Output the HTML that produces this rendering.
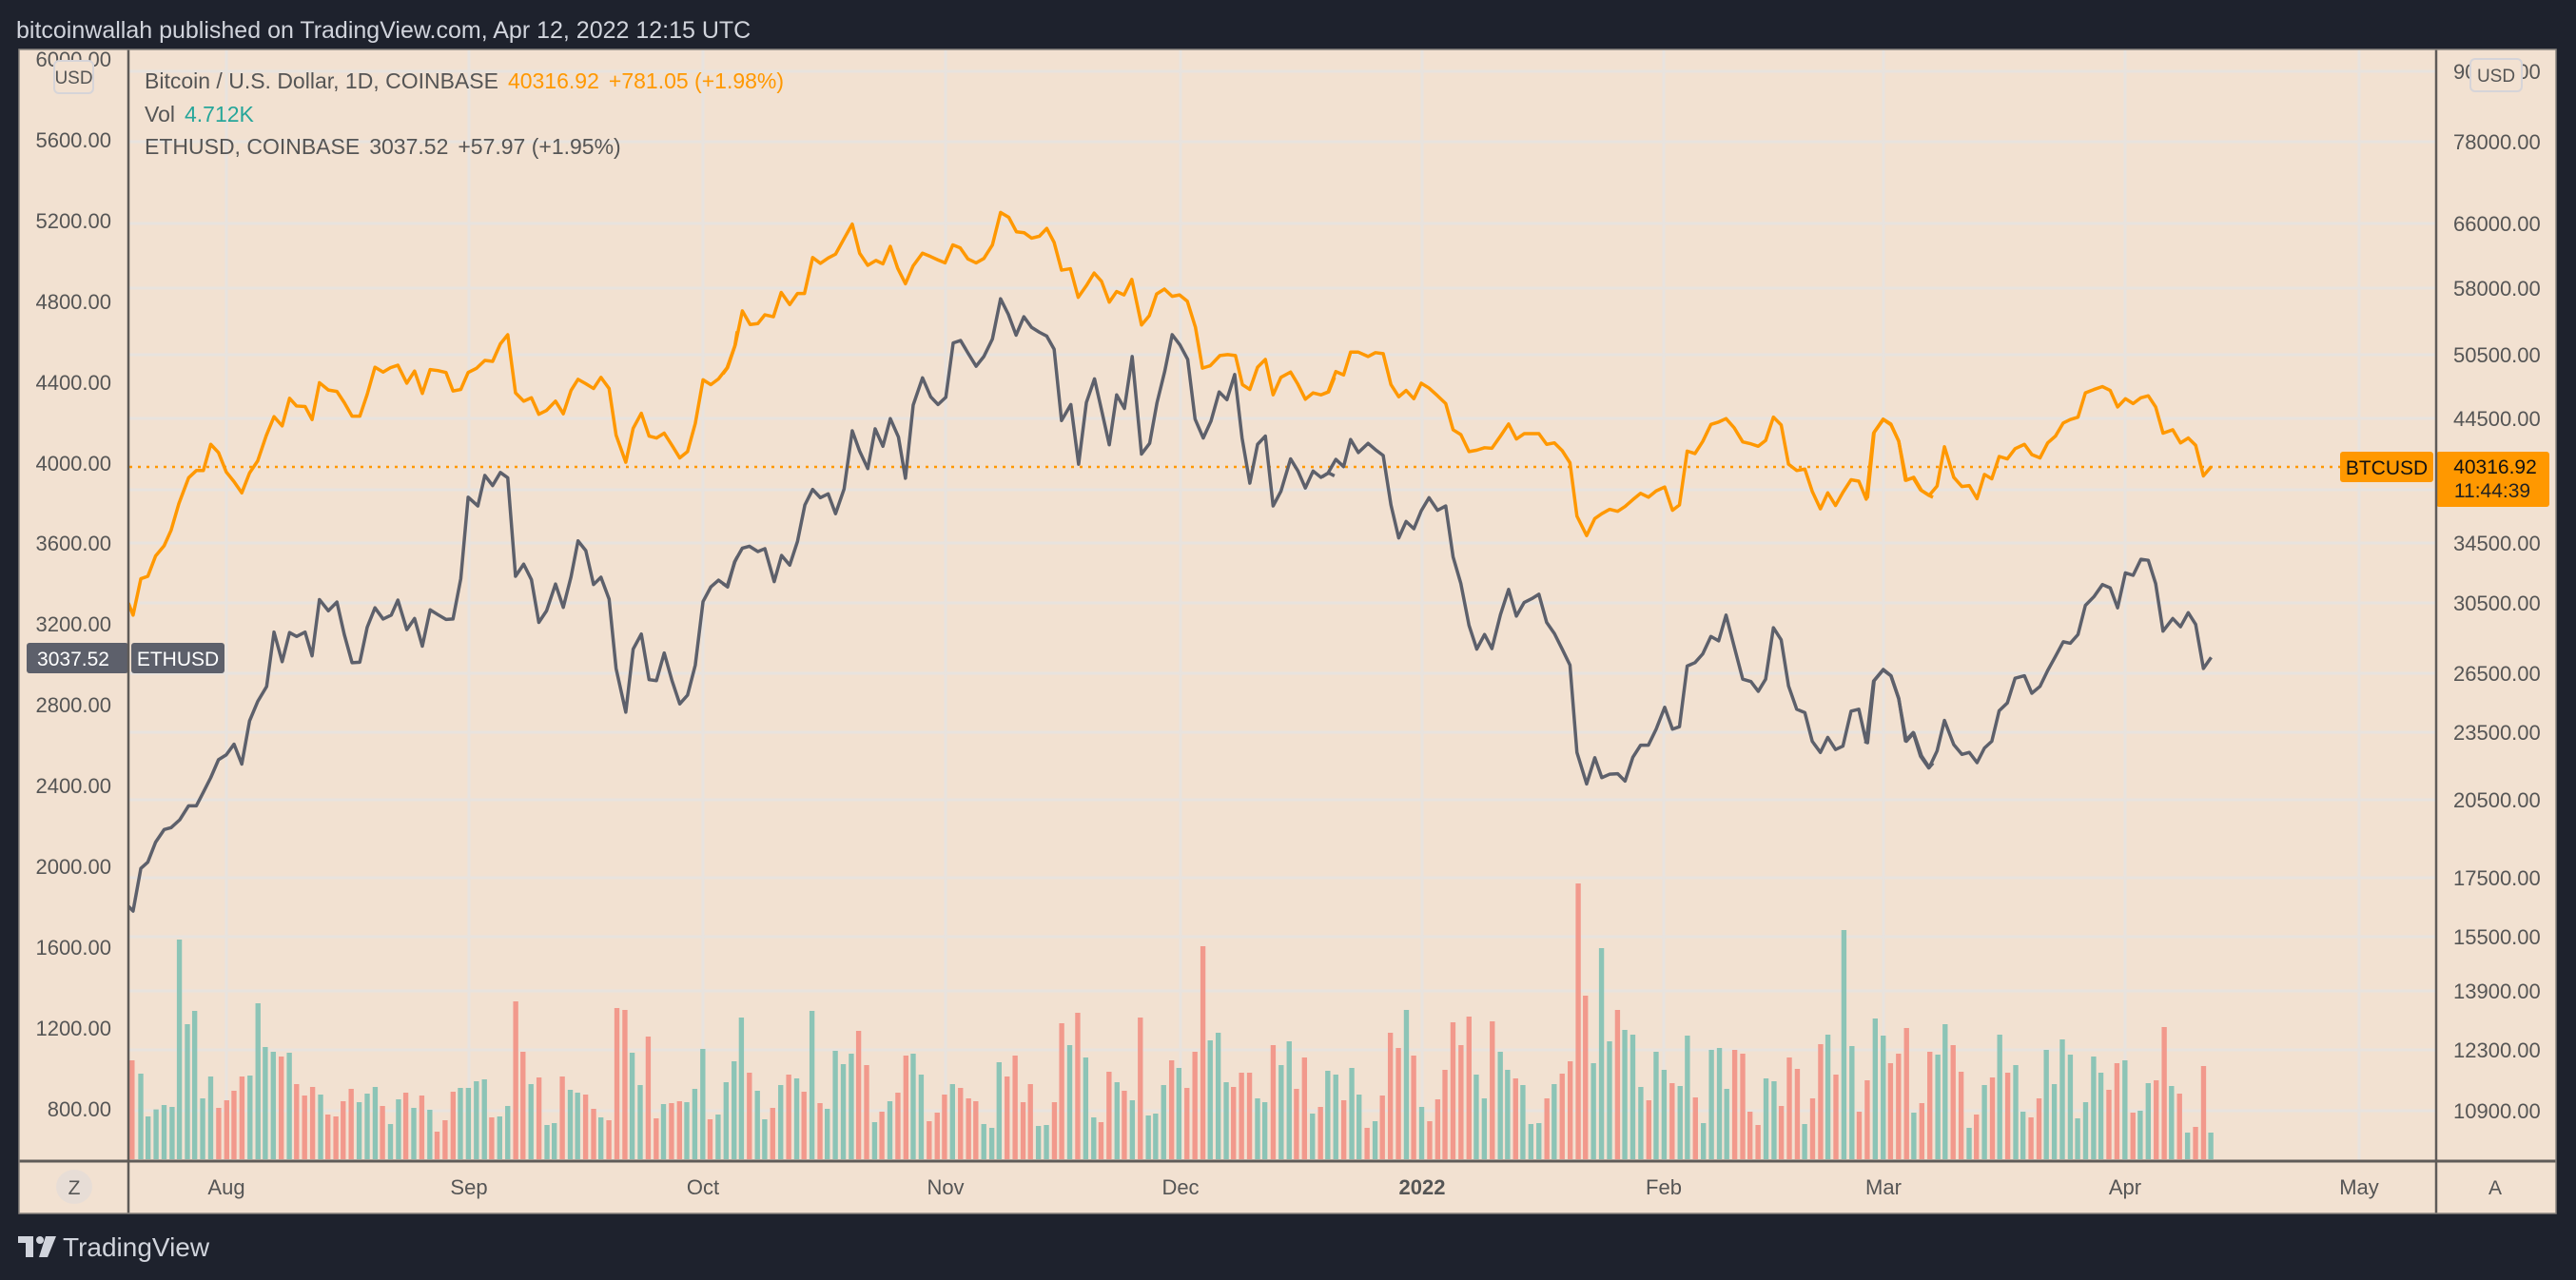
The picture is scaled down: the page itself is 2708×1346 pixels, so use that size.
<!DOCTYPE html>
<html><head><meta charset="utf-8"><style>
html,body{margin:0;padding:0;background:#1e222d;}
svg{display:block;font-family:"Liberation Sans",sans-serif;}
</style></head><body>
<svg width="2708" height="1346" viewBox="0 0 2708 1346" xmlns="http://www.w3.org/2000/svg">
<defs>
<clipPath id="plot"><rect x="136" y="53" width="2424" height="1167"/></clipPath>
<clipPath id="laxis"><rect x="21" y="53" width="114" height="1167"/></clipPath>
<clipPath id="raxis"><rect x="2562" y="53" width="125" height="1167"/></clipPath>
</defs>
<rect x="0" y="0" width="2708" height="1346" fill="#1e222d"/>
<text x="17" y="40" font-size="25" fill="#d1d4dc">bitcoinwallah published on TradingView.com, Apr 12, 2022 12:15 UTC</text>
<rect x="20" y="52" width="2667" height="1224" fill="#f2e1d1"/>
<g stroke="#e8e3de" stroke-width="3" clip-path="url(#plot)">
<line x1="136" x2="2560" y1="75" y2="75"/><line x1="136" x2="2560" y1="149" y2="149"/>
<line x1="136" x2="2560" y1="235" y2="235"/><line x1="136" x2="2560" y1="303" y2="303"/>
<line x1="136" x2="2560" y1="373" y2="373"/><line x1="136" x2="2560" y1="440" y2="440"/>
<line x1="136" x2="2560" y1="515" y2="515"/><line x1="136" x2="2560" y1="571" y2="571"/>
<line x1="136" x2="2560" y1="634" y2="634"/><line x1="136" x2="2560" y1="708" y2="708"/>
<line x1="136" x2="2560" y1="770" y2="770"/><line x1="136" x2="2560" y1="841" y2="841"/>
<line x1="136" x2="2560" y1="923" y2="923"/><line x1="136" x2="2560" y1="985" y2="985"/>
<line x1="136" x2="2560" y1="1042" y2="1042"/><line x1="136" x2="2560" y1="1104" y2="1104"/>
<line x1="136" x2="2560" y1="1168" y2="1168"/>
<line y1="53" y2="1220" x1="238" x2="238"/><line y1="53" y2="1220" x1="493" x2="493"/>
<line y1="53" y2="1220" x1="739" x2="739"/><line y1="53" y2="1220" x1="994" x2="994"/>
<line y1="53" y2="1220" x1="1241" x2="1241"/><line y1="53" y2="1220" x1="1495" x2="1495"/>
<line y1="53" y2="1220" x1="1749" x2="1749"/><line y1="53" y2="1220" x1="1980" x2="1980"/>
<line y1="53" y2="1220" x1="2234" x2="2234"/><line y1="53" y2="1220" x1="2480" x2="2480"/>
</g>
<g clip-path="url(#plot)">
<g transform="translate(135,900) scale(0.7653,0.3333)" stroke-width="7">
<path stroke="#8cc4b6" d="M17 687V957M27 822V957M38 800V957M49 786V957M60 792V957M70 264V957M81 531V957M91 489V957M102 765V957M113 696V957M167 693V957M178 465V957M188 603V957M199 618V957M221 621V957M264 753V957M317 777V957M328 750V957M339 729V957M360 846V957M371 768V957M392 795V957M414 801V957M456 732V957M467 732V957M478 711V957M489 705V957M510 822V957M521 789V957M553 720V957M575 849V957M585 843V957M607 738V957M617 747V957M649 825V957M692 621V957M703 723V957M735 783V957M767 777V957M778 735V957M789 609V957M810 816V957M821 714V957M832 648V957M842 510V957M864 741V957M874 831V957M896 723V957M918 702V957M939 489V957M960 798V957M971 615V957M982 657V957M993 624V957M1025 840V957M1046 774V957M1078 624V957M1089 690V957M1132 720V957M1175 846V957M1186 858V957M1196 651V957M1250 852V957M1261 849V957M1293 597V957M1315 636V957M1326 825V957M1358 714V957M1379 771V957M1401 819V957M1411 813V957M1422 723V957M1443 669V957M1486 582V957M1497 558V957M1508 714V957M1551 765V957M1561 777V957"/>
<path stroke="#f2998c" d="M5 645V957M124 795V957M135 771V957M145 741V957M156 696V957M210 633V957M231 720V957M242 756V957M253 729V957M274 816V957M285 822V957M295 774V957M306 735V957M349 789V957M381 747V957M403 756V957M424 870V957M435 834V957M446 744V957M499 825V957M532 459V957M542 618V957M564 699V957M596 696V957M628 753V957M639 798V957M660 834V957M671 480V957M682 486V957M714 570V957M725 828V957M746 780V957M757 774V957M799 831V957M853 684V957M885 795V957M907 690V957M928 744V957M950 780V957M1003 552V957M1014 660V957M1035 807V957M1057 747V957M1068 630V957M1100 837V957M1111 810V957M1121 753V957M1143 732V957M1154 765V957M1164 774V957M1207 696V957M1218 630V957M1229 777V957M1239 720V957M1272 777V957M1282 528V957M1304 495V957M1336 840V957M1347 681V957M1368 741V957M1390 510V957M1433 645V957M1454 732V957M1465 618V957M1476 285V957M1518 729V957M1529 684V957M1540 684V957"/>
</g>
<g transform="translate(1330,900) scale(0.7653,0.3333)" stroke-width="7">
<path stroke="#8cc4b6" d="M22 660V957M33 585V957M65 813V957M86 678V957M97 690V957M119 669V957M129 753V957M151 837V957M194 486V957M215 792V957M290 690V957M301 765V957M323 618V957M333 675V957M354 723V957M365 846V957M376 843V957M397 720V957M451 654V957M462 291V957M473 585V957M494 549V957M505 564V957M516 729V957M537 618V957M548 675V957M570 726V957M580 567V957M602 843V957M613 612V957M624 606V957M634 735V957M688 702V957M699 711V957M741 846V957M773 564V957M795 234V957M806 600V957M838 513V957M849 567V957M891 810V957M924 627V957M934 531V957M967 858V957M988 723V957M1009 564V957M1031 660V957M1041 807V957M1073 612V957M1084 720V957M1095 579V957M1106 627V957M1116 828V957M1127 777V957M1138 633V957M1148 684V957M1181 645V957M1202 804V957M1213 717V957M1245 726V957M1267 873V957M1299 873V957"/>
<path stroke="#f2998c" d="M11 597V957M43 735V957M54 636V957M76 792V957M108 771V957M140 858V957M161 756V957M172 558V957M183 606V957M204 630V957M226 837V957M237 768V957M247 675V957M258 525V957M269 597V957M280 507V957M312 522V957M344 702V957M387 765V957M408 687V957M419 648V957M430 87V957M440 441V957M484 486V957M527 771V957M559 717V957M591 762V957M645 612V957M656 624V957M666 807V957M677 849V957M709 789V957M720 636V957M731 672V957M752 765V957M763 594V957M784 690V957M816 807V957M827 708V957M859 654V957M870 624V957M881 543V957M902 780V957M913 618V957M945 597V957M956 681V957M977 816V957M999 699V957M1020 684V957M1052 825V957M1063 765V957M1159 738V957M1170 654V957M1192 810V957M1224 708V957M1235 540V957M1256 750V957M1278 855V957M1289 663V957"/>
</g>
</g>
<line x1="136" x2="2460" y1="491" y2="491" stroke="#ff9800" stroke-width="2.5" stroke-dasharray="3,6"/>
<g clip-path="url(#plot)" fill="none" stroke-linejoin="round">
<g transform="translate(135,180) scale(0.40816,0.5102)">
<polyline vector-effect="non-scaling-stroke" stroke="#ff9800" stroke-width="3.5" points="0,890 12,915 32,840 50,835 70,793 92,772 110,740 130,685 155,632 175,617 193,617 212,563 232,580 252,620 272,640 292,663 312,622 333,597 355,545 375,506 396,525 415,468 433,484 455,485 473,512 492,436 515,451 537,454 556,477 576,505 596,505 615,460 635,404 656,414 675,405 694,400 717,437 737,412 757,458 777,409 797,411 818,415 836,453 856,450 875,415 897,406 918,390 938,392 958,356 977,337 997,457 1018,474 1038,467 1057,501 1077,493 1100,474 1120,500 1140,452 1158,429 1178,438 1198,448 1217,425 1238,448 1256,544 1281,600 1300,530 1321,499 1341,546 1360,550 1380,540 1400,565 1420,591 1440,578 1460,520 1480,430 1500,440 1520,428 1542,405 1562,360 1568,330"/>
<polyline vector-effect="non-scaling-stroke" stroke="#5d606b" stroke-width="3.5" points="0,1515 12,1525 32,1437 50,1424 70,1383 92,1357 110,1353 132,1337 155,1308 175,1308 193,1280 212,1250 232,1213 252,1203 272,1181 292,1222 312,1133 333,1093 356,1062 375,950 396,1011 415,951 433,959 455,950 473,999 492,883 515,906 537,888 556,955 576,1013 596,1012 615,940 635,900 656,923 677,915 694,884 717,945 737,922 757,979 777,904 797,914 818,924 836,923 856,840 875,672 900,690 918,627 938,648 958,621 977,632 997,835 1018,810 1038,842 1057,930 1077,906 1100,851 1120,899 1140,836 1158,762 1178,782 1198,852 1217,837 1238,882 1256,1025 1281,1115 1300,985 1321,954 1341,1048 1360,1050 1380,993 1400,1050 1420,1098 1440,1080 1460,1018 1480,887 1500,857 1520,843 1542,856 1562,805 1568,795"/>
</g>
<g transform="translate(760,180) scale(0.40816,0.5102)">
<polyline vector-effect="non-scaling-stroke" stroke="#ff9800" stroke-width="3.5" points="0,418 12,405 32,357 50,288 70,316 90,314 108,296 130,300 150,250 172,275 192,252 210,252 231,178 251,190 271,179 290,171 312,139 333,109 352,169 373,194 394,184 412,191 431,155 450,200 470,232 490,195 514,169 535,176 554,183 572,189 592,152 611,158 631,181 652,189 672,180 694,152 715,85 736,95 756,125 776,127 795,138 815,134 834,118 853,147 872,204 895,201 915,260 936,236 956,210 975,227 995,270 1014,248 1033,255 1053,223 1078,317 1098,298 1117,253 1137,243 1157,258 1176,255 1196,268 1217,322 1235,406 1255,401 1280,380 1300,378 1320,380 1338,440 1357,450 1377,404 1397,388 1417,461 1437,425 1462,414 1480,438 1500,470 1520,457 1540,461 1560,455 1575,425"/>
<polyline vector-effect="non-scaling-stroke" stroke="#5d606b" stroke-width="3.5" points="0,850 12,857 30,805 50,777 68,773 90,784 108,778 132,846 151,792 172,812 192,763 211,688 231,656 251,673 271,665 290,706 312,655 333,535 352,577 373,613 392,531 412,567 431,510 452,548 470,633 490,482 514,426 535,465 554,481 574,466 593,354 612,349 632,376 652,402 672,382 694,346 715,263 735,295 755,338 775,300 795,322 815,332 834,340 853,367 872,514 896,481 916,604 936,477 957,428 975,492 995,564 1014,461 1034,489 1054,382 1078,583 1099,561 1118,477 1138,412 1157,337 1177,358 1197,388 1216,511 1237,550 1257,515 1278,455 1298,471 1318,419 1337,550 1357,643 1377,563 1397,546 1417,690 1437,660 1462,593 1481,618 1500,653 1520,618 1540,631 1560,622 1575,628"/>
</g>
<g transform="translate(1390,180) scale(0.40816,0.5102)">
<polyline vector-effect="non-scaling-stroke" stroke="#ff9800" stroke-width="3.5" points="0,460 15,455 35,413 55,420 73,373 93,373 118,382 137,374 157,376 177,440 197,465 216,452 236,469 255,437 275,447 297,463 318,479 337,533 357,543 378,578 398,575 418,570 437,571 459,546 480,521 500,552 520,541 540,541 558,541 578,563 598,560 618,576 638,601 656,711 681,751 702,716 720,706 740,697 761,701 780,691 800,677 820,664 840,672 860,659 882,651 902,699 920,688 940,577 960,582 980,557 1001,522 1021,517 1040,510 1061,529 1083,558 1104,562 1123,567 1142,555 1162,507 1182,523 1201,604 1222,617 1243,614 1262,660 1283,696 1302,663 1322,689 1341,662 1362,636 1382,639 1401,676 1420,540 1445,512 1465,523 1485,557 1502,637 1522,632 1541,657 1562,668 1573,672"/>
<polyline vector-effect="non-scaling-stroke" stroke="#5d606b" stroke-width="3.5" points="0,630 15,622 35,594 55,609 73,553 93,580 118,561 137,574 157,586 177,688 197,756 216,722 236,737 255,700 275,673 297,699 318,690 337,795 357,850 378,936 398,985 418,955 437,984 459,914 480,862 500,917 520,889 540,881 558,872 578,930 598,953 618,985 638,1018 656,1198 681,1263 702,1209 720,1250 740,1243 761,1242 780,1257 800,1208 820,1183 840,1183 860,1150 882,1105 902,1150 920,1145 940,1020 960,1013 980,995 1001,959 1021,968 1040,915 1061,980 1083,1047 1104,1052 1123,1072 1142,1047 1162,941 1182,966 1201,1061 1222,1109 1243,1116 1262,1175 1283,1198 1302,1167 1322,1192 1341,1185 1362,1113 1382,1109 1401,1177 1420,1051 1445,1027 1465,1040 1485,1087 1502,1174 1522,1157 1541,1206 1562,1230 1573,1220"/>
</g>
<g transform="translate(1960,180) scale(0.40816,0.5102)">
<polyline vector-effect="non-scaling-stroke" stroke="#ff9800" stroke-width="3.5" points="0,675 8,672 25,538 48,511 68,521 88,556 108,637 127,631 147,658 167,668 187,649 206,568 230,631 251,650 270,648 290,675 309,625 328,634 347,588 368,593 388,572 412,563 431,584 452,591 472,560 492,546 512,519 530,512 550,507 569,457 591,450 613,444 633,452 652,486 672,469 692,479 712,467 731,463 750,486 769,540 794,533 814,560 834,550 853,565 873,628 893,609"/>
<polyline vector-effect="non-scaling-stroke" stroke="#5d606b" stroke-width="3.5" points="0,1175 8,1178 25,1050 48,1028 68,1040 88,1087 108,1175 127,1158 147,1205 167,1229 187,1195 206,1132 230,1182 251,1202 270,1198 290,1219 309,1189 328,1175 347,1112 368,1096 388,1045 412,1040 431,1076 452,1062 472,1029 492,1000 512,970 530,973 550,955 569,895 591,877 613,852 633,859 652,900 672,828 692,833 712,800 731,802 750,850 769,948 794,922 814,939 834,910 853,934 873,1025 893,1002"/>
</g>
</g>
<text x="152" y="93" font-size="23" fill="#555"><tspan>Bitcoin / U.S. Dollar, 1D, COINBASE</tspan><tspan dx="10" fill="#ff9800">40316.92</tspan><tspan dx="10" fill="#ff9800">+781.05 (+1.98%)</tspan></text>
<text x="152" y="128" font-size="23" fill="#555"><tspan>Vol</tspan><tspan dx="10" fill="#26a69a">4.712K</tspan></text>
<text x="152" y="162" font-size="23" fill="#555"><tspan>ETHUSD, COINBASE</tspan><tspan dx="10">3037.52</tspan><tspan dx="10">+57.97 (+1.95%)</tspan></text>
<g clip-path="url(#laxis)" font-size="22" fill="#555" text-anchor="end">
<text x="117" y="70">6000.00</text><text x="117" y="155">5600.00</text><text x="117" y="240">5200.00</text>
<text x="117" y="325">4800.00</text><text x="117" y="410">4400.00</text><text x="117" y="495">4000.00</text>
<text x="117" y="579">3600.00</text><text x="117" y="664">3200.00</text><text x="117" y="749">2800.00</text>
<text x="117" y="834">2400.00</text><text x="117" y="919">2000.00</text><text x="117" y="1004">1600.00</text>
<text x="117" y="1089">1200.00</text><text x="117" y="1174">800.00</text>
</g>
<rect x="57" y="64" width="41" height="34" rx="5" fill="#f2e1d1" stroke="#d6d4d8" stroke-width="2"/>
<text x="77.5" y="88" font-size="19" fill="#555" text-anchor="middle">USD</text>
<g clip-path="url(#raxis)" font-size="22" fill="#555">
<text x="2579" y="83">90000.00</text><text x="2579" y="157">78000.00</text><text x="2579" y="243">66000.00</text>
<text x="2579" y="311">58000.00</text><text x="2579" y="381">50500.00</text><text x="2579" y="448">44500.00</text>
<text x="2579" y="579">34500.00</text><text x="2579" y="642">30500.00</text><text x="2579" y="716">26500.00</text>
<text x="2579" y="778">23500.00</text><text x="2579" y="849">20500.00</text><text x="2579" y="931">17500.00</text>
<text x="2579" y="993">15500.00</text><text x="2579" y="1050">13900.00</text><text x="2579" y="1112">12300.00</text>
<text x="2579" y="1176">10900.00</text>
</g>
<rect x="2597" y="62" width="54" height="34" rx="5" fill="#f2e1d1" stroke="#d6d4d8" stroke-width="2"/>
<text x="2624" y="86" font-size="19" fill="#555" text-anchor="middle">USD</text>
<rect x="2460" y="475" width="98" height="32" rx="3" fill="#ff9800"/>
<text x="2509" y="499" font-size="21" fill="#111" text-anchor="middle">BTCUSD</text>
<rect x="2561" y="475" width="119" height="58" rx="3" fill="#ff9800"/>
<text x="2623" y="498" font-size="21" fill="#111" text-anchor="middle">40316.92</text>
<text x="2620" y="523" font-size="21" fill="#222" text-anchor="middle">11:44:39</text>
<rect x="28" y="676" width="107" height="32" rx="3" fill="#5d606b"/>
<text x="77" y="700" font-size="21" fill="#fff" text-anchor="middle">3037.52</text>
<rect x="138" y="676" width="98" height="32" rx="3" fill="#5d606b"/>
<text x="187" y="700" font-size="21" fill="#fff" text-anchor="middle">ETHUSD</text>
<g stroke="#5f5b58" fill="none">
<line x1="135" x2="135" y1="52" y2="1276" stroke-width="2.5"/>
<line x1="2561" x2="2561" y1="52" y2="1276" stroke-width="2.5"/>
<line x1="20" x2="2687" y1="1221" y2="1221" stroke-width="3"/>
<rect x="20" y="52" width="2667" height="1224" stroke="#8a8580" stroke-width="1.5"/>
</g>
<g font-size="22" fill="#555" text-anchor="middle">
<text x="238" y="1256">Aug</text><text x="493" y="1256">Sep</text><text x="739" y="1256">Oct</text>
<text x="994" y="1256">Nov</text><text x="1241" y="1256">Dec</text><text x="1495" y="1256" font-weight="bold">2022</text>
<text x="1749" y="1256">Feb</text><text x="1980" y="1256">Mar</text><text x="2234" y="1256">Apr</text>
<text x="2480" y="1256">May</text>
</g>
<ellipse cx="78" cy="1248" rx="19" ry="18" fill="#e7ddd6"/>
<text x="78" y="1256" font-size="21" fill="#555" text-anchor="middle">Z</text>
<ellipse cx="2623" cy="1248" rx="19" ry="18" fill="#f2e1d1"/>
<text x="2623" y="1256" font-size="21" fill="#555" text-anchor="middle">A</text>
<g fill="#d1d4dc">
<rect x="19" y="1300" width="16" height="7"/><rect x="27" y="1300" width="8" height="22"/>
<circle cx="42" cy="1304" r="4"/><polygon points="48,1300 59,1300 50,1322 41,1322"/>
</g>
<text x="66" y="1321" font-size="28" fill="#d1d4dc">TradingView</text>
</svg>
</body></html>
